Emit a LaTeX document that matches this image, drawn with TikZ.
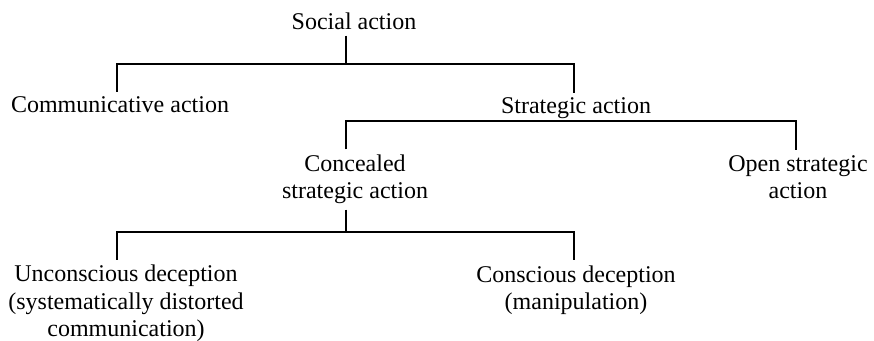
\documentclass[tikz,border=0pt]{standalone}
\usepackage{fontspec}
\setmainfont{Liberation Serif}
\usetikzlibrary{positioning}

\begin{document}
\begin{tikzpicture}[x=0.5pt, y=-0.5pt,
  lbl/.style={anchor=base, align=center, inner sep=2.5pt,
              font=\fontsize{12pt}{13.75pt}\selectfont},
  branch/.style={draw=black, line width=1pt}]
\useasboundingbox (0,0) rectangle (874,341);
\node [lbl] (soc) at (354,30)  {Social action};
\node [lbl] (com) at (120,113) {Communicative action};
\node [lbl] (str) at (576,114) {Strategic action};
\node [lbl] (con) at (355,199) {Concealed\\strategic action};
\node [lbl] (opn) at (798,199) {Open strategic\\action};
\node [lbl] (unc) at (126,337) {Unconscious deception\\(systematically distorted\\communication)};
\node [lbl] (csc) at (576,310) {Conscious deception\\(manipulation)};
\coordinate (b1)  at (346,64);
\coordinate (b1l) at (117,64);
\coordinate (b1r) at (574,64);
\coordinate (b2l) at (346,121);
\coordinate (b2r) at (796,121);
\coordinate (b3)  at (346,232);
\coordinate (b3l) at (117,232);
\coordinate (b3r) at (574,232);
\draw [branch] (soc.south -| b1) -- (b1);
\draw [branch] (com.north -| b1l) |- (b1r) -- (str.north -| b1r);
\draw [branch] (con.north -| b2l) |- (b2r) -- (opn.north -| b2r);
\draw [branch] (con.south -| b3) -- (b3);
\draw [branch] (unc.north -| b3l) |- (b3r) -- (csc.north -| b3r);
\end{tikzpicture}
\end{document}
